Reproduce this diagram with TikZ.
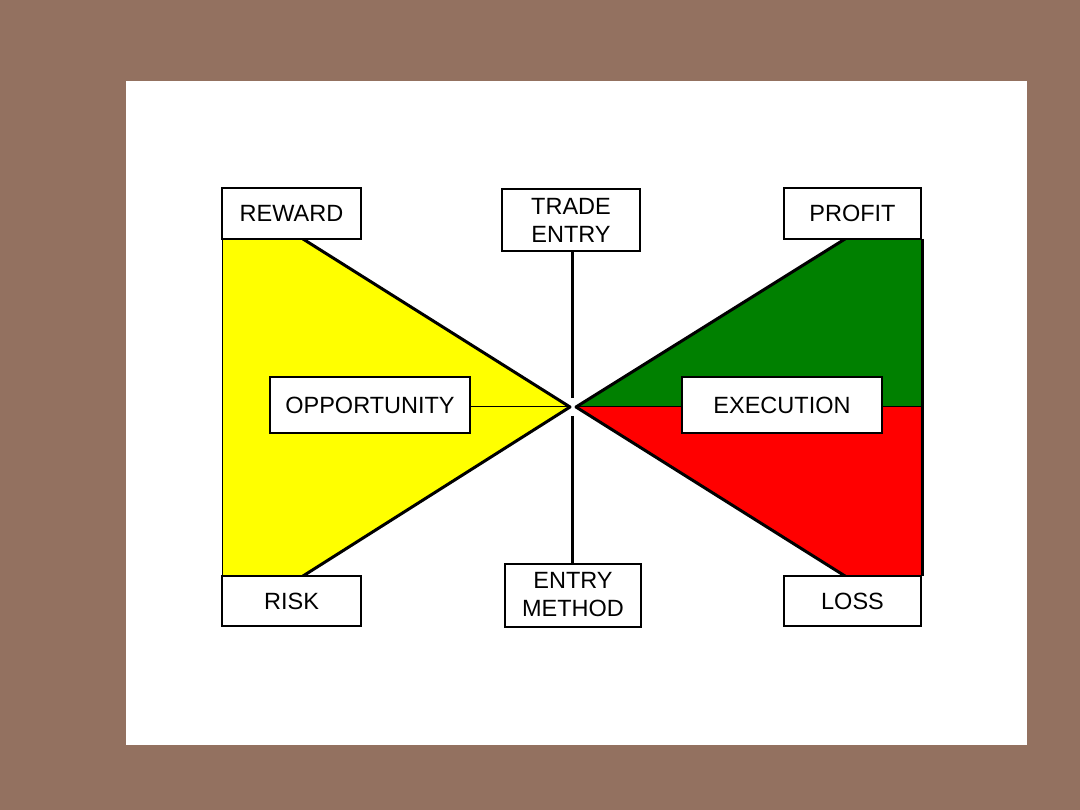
\documentclass[tikz,border=0pt]{standalone}
\usepackage{fontspec}
\setmainfont{Liberation Sans}
\definecolor{bgbrown}{RGB}{147,113,96}
\definecolor{dgreen}{RGB}{0,128,0}
\definecolor{pyellow}{RGB}{255,255,0}
\definecolor{pred}{RGB}{255,0,0}
\begin{document}
\begin{tikzpicture}[x=1pt,y=-1pt,
  lbl/.style={draw=black,line width=2pt,fill=white,inner sep=0pt,align=center,
    font=\fontsize{23.5}{28}\selectfont},
  thick3/.style={line width=3pt,line join=round},
  thin1/.style={line width=1pt}]
\useasboundingbox (0,0) rectangle (1080,810);
\fill[bgbrown] (0,0) rectangle (1080,810);
\fill[white] (126,81) rectangle (1027,745);
% apex coordinates
\coordinate (yl) at (570,407);
\coordinate (gr) at (576,407);
\coordinate (ctop) at (572,398);
\coordinate (cbot) at (572,416);
% yellow
\fill[pyellow] (222,239) -- (303,239) -- (yl) -- (303,576) -- (222,576) -- cycle;
\draw[thin1] (222,239) -- (222,576);
\draw[thick3] (303,239) -- (yl) -- (303,576);
% green and red
\fill[dgreen] (gr) -- (845,239) -- (922,239) -- (922,407) -- cycle;
\fill[pred] (gr) -- (922,407) -- (922,576) -- (845,576) -- cycle;
\draw[thick3] (845,239) -- (gr) -- (845,576);
\draw[thick3] (922,239) -- (922,576);
\draw[thin1] (gr) -- (922,407);
% boxes
\node[lbl,minimum width=139pt,minimum height=51pt] (reward) at (291.5,213.5) {REWARD};
\node[lbl,minimum width=138pt,minimum height=62pt] (trade) at (571,220) {TRADE\\ENTRY};
\node[lbl,minimum width=137pt,minimum height=51pt] (profit) at (852.5,213.5) {PROFIT};
\node[lbl,minimum width=139pt,minimum height=50pt] (risk) at (291.5,601) {RISK};
\node[lbl,minimum width=136pt,minimum height=63pt] (method) at (573,595) {ENTRY\\METHOD};
\node[lbl,minimum width=137pt,minimum height=50pt] (loss) at (852.5,601) {LOSS};
\node[lbl,minimum width=200pt,minimum height=56pt] (opp) at (370,405) {OPPORTUNITY};
\node[lbl,minimum width=200pt,minimum height=56pt] (exec) at (782,405) {EXECUTION};
% connectors
\draw[thin1] (opp.east |- yl) -- (yl);
\draw[thick3] (trade.south -| ctop) -- (ctop);
\draw[thick3] (cbot) -- (method.north -| cbot);
\end{tikzpicture}
\end{document}
